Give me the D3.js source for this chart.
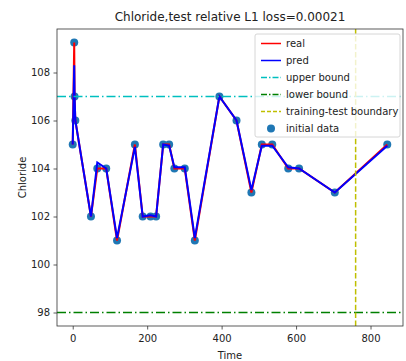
<!DOCTYPE html>
<html>
<head>
<meta charset="utf-8">
<script src="https://cdn.jsdelivr.net/npm/d3@7/dist/d3.min.js"></script>
<style>
  html, body { margin: 0; padding: 0; background: #fff; }
  svg { display: block; font-family: "DejaVu Sans", sans-serif; }
</style>
</head>
<body>
<svg id="chart" width="406" height="361"></svg>
<script>
// Sample times and measured chloride values
const times = [0, 4, 5, 7, 49, 66, 90, 119, 167, 188, 209, 224, 243, 259, 273, 301, 328, 394, 440, 480, 508, 536, 579, 608, 704, 845];
const realValues = [105, 109.25, 107, 106, 102, 104, 104, 101, 105, 102, 102, 102, 105, 105, 104, 104, 101, 107, 106, 103, 105, 105, 104, 104, 103, 105];
const predValues = [105, 108.3, 107, 106, 102, 104.25, 104, 101.1, 104.9, 102, 102.05, 102, 105, 104.95, 104.05, 104.05, 101.1, 107, 106, 103.1, 104.95, 104.95, 104.05, 104, 103, 104.95];
const upperBound = 107;
const lowerBound = 98;
const boundaryTime = 760;
const xTicks = [0, 200, 400, 600, 800];
const yTicks = [98, 100, 102, 104, 106, 108];
const titleText = "Chloride,test relative L1 loss=0.00021";
const legendLabels = ["real", "pred", "upper bound", "lower bound", "training-test boundary", "initial data"];

const svg = d3.select("#chart");
const margin = { left: 57, right: 3, top: 29, bottom: 35 };
const W = 406, H = 361;

// Matplotlib-style 5% padding around the data
const xMin = d3.min(times), xMax = d3.max(times);
const xPad = (xMax - xMin) * 0.05;
const yLo = Math.min(d3.min(realValues), lowerBound), yHi = Math.max(d3.max(realValues), upperBound);
const yPad = (yHi - yLo) * 0.05;

const x = d3.scaleLinear().domain([xMin - xPad, xMax + xPad]).range([margin.left, W - margin.right]);
const y = d3.scaleLinear().domain([yLo - yPad, yHi + yPad]).range([H - margin.bottom, margin.top]);

const plot = svg.append("g");

// Scatter of initial data (drawn underneath the lines)
plot.append("g").selectAll("circle")
  .data(times.map((t, i) => [t, realValues[i]]))
  .join("circle")
  .attr("cx", d => x(d[0])).attr("cy", d => y(d[1]))
  .attr("r", 4).attr("fill", "#1f77b4");

const line = d3.line().x(d => x(d[0])).y(d => y(d[1]));

plot.append("path")
  .datum(times.map((t, i) => [t, realValues[i]]))
  .attr("d", line).attr("fill", "none").attr("stroke", "#ff0000").attr("stroke-width", 2);

plot.append("path")
  .datum(times.map((t, i) => [t, predValues[i]]))
  .attr("d", line).attr("fill", "none").attr("stroke", "#0000ff").attr("stroke-width", 2);

// Reference lines
const x0 = x.range()[0], x1 = x.range()[1];
plot.append("line").attr("x1", x0).attr("x2", x1).attr("y1", y(upperBound)).attr("y2", y(upperBound))
  .attr("stroke", "#00bfbf").attr("stroke-width", 1.5).attr("stroke-dasharray", "9,3,1.5,3");
plot.append("line").attr("x1", x0).attr("x2", x1).attr("y1", y(lowerBound)).attr("y2", y(lowerBound))
  .attr("stroke", "#008000").attr("stroke-width", 1.5).attr("stroke-dasharray", "9,3,1.5,3");
plot.append("line").attr("x1", x(boundaryTime)).attr("x2", x(boundaryTime)).attr("y1", y.range()[0]).attr("y2", y.range()[1])
  .attr("stroke", "#bfbf00").attr("stroke-width", 1.5).attr("stroke-dasharray", "5.5,2.4");

// Axes
const xAxis = svg.append("g").attr("transform", `translate(0,${H - margin.bottom})`)
  .call(d3.axisBottom(x).tickValues(xTicks).tickSize(3.5).tickPadding(5.5));
const yAxis = svg.append("g").attr("transform", `translate(${margin.left},0)`)
  .call(d3.axisLeft(y).tickValues(yTicks).tickSize(3.5).tickPadding(3.5));
[xAxis, yAxis].forEach(a => {
  a.select(".domain").remove();
  a.selectAll("line").attr("stroke", "#333").attr("stroke-width", 0.8);
  a.selectAll("text").attr("font-size", 10).attr("fill", "#222").attr("font-family", "DejaVu Sans");
});

// Frame
svg.append("rect").attr("x", margin.left).attr("y", margin.top)
  .attr("width", W - margin.left - margin.right).attr("height", H - margin.top - margin.bottom)
  .attr("fill", "none").attr("stroke", "#333").attr("stroke-width", 0.8);

// Titles
svg.append("text").attr("x", (margin.left + W - margin.right) / 2).attr("y", 21)
  .attr("text-anchor", "middle").attr("font-size", 12).attr("fill", "#222").text(titleText);
svg.append("text").attr("x", (margin.left + W - margin.right) / 2).attr("y", 359)
  .attr("text-anchor", "middle").attr("font-size", 10).attr("fill", "#222").text("Time");
svg.append("text").attr("transform", `translate(26,${(margin.top + H - margin.bottom) / 2}) rotate(-90)`)
  .attr("text-anchor", "middle").attr("font-size", 10).attr("fill", "#222").text("Chloride");

// Legend
const lg = svg.append("g").attr("transform", "translate(255,34)");
lg.append("rect").attr("x", 0).attr("y", 0).attr("width", 145).attr("height", 103).attr("rx", 2)
  .attr("fill", "rgba(255,255,255,0.8)").attr("stroke", "#ccc").attr("stroke-width", 0.8);
const legendStyles = [
  { type: "line", color: "#ff0000", dash: null },
  { type: "line", color: "#0000ff", dash: null },
  { type: "line", color: "#00bfbf", dash: "6,2,1.5,2" },
  { type: "line", color: "#008000", dash: "6,2,1.5,2" },
  { type: "line", color: "#bfbf00", dash: "4,2" },
  { type: "dot", color: "#1f77b4" }
];
legendLabels.forEach((lab, i) => {
  const cy = 9.5 + i * 17;
  const s = legendStyles[i];
  if (s.type === "line") {
    lg.append("line").attr("x1", 6).attr("x2", 26).attr("y1", cy).attr("y2", cy)
      .attr("stroke", s.color).attr("stroke-width", 1.5).attr("stroke-dasharray", s.dash);
  } else {
    lg.append("circle").attr("cx", 16).attr("cy", cy).attr("r", 4).attr("fill", s.color);
  }
  lg.append("text").attr("x", 31).attr("y", cy + 3.5).attr("font-size", 10).attr("fill", "#222").text(lab);
});
</script>
</body>
</html>
